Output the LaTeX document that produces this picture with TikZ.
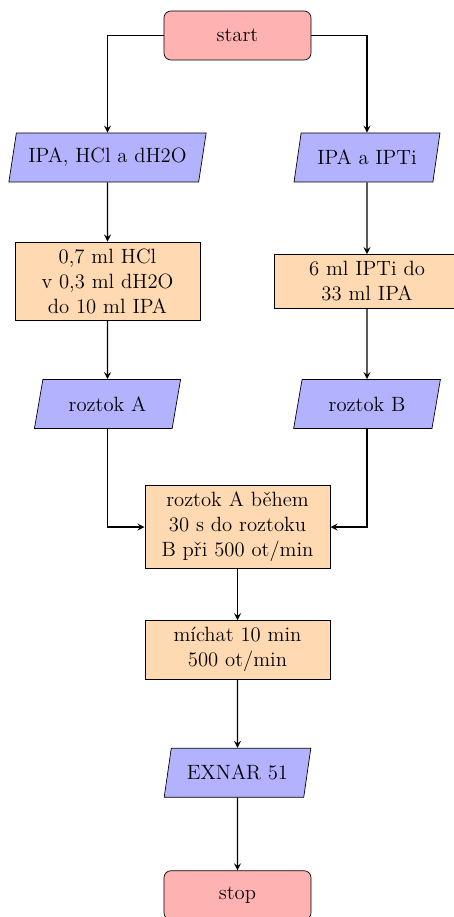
\documentclass[12pt,tikz,border=0pt]{standalone}
\usetikzlibrary{shapes.geometric,arrows}
\tikzset{
  startstop/.style={rectangle, rounded corners, minimum width=3cm, minimum height=1cm, text centered, draw=black, fill=red!30},
  io/.style={trapezium, trapezium left angle=77, trapezium right angle=103, trapezium stretches=true, inner xsep=7pt, minimum width=3cm, minimum height=1cm, text centered, draw=black, fill=blue!30},
  process/.style={rectangle, minimum width=3cm, minimum height=1cm, text width=3.5cm, align=center, draw=black, fill=orange!30},
  arrow/.style={thick, ->, >=stealth}
}
\begin{document}
\begin{tikzpicture}
\useasboundingbox (0,0) rectangle (9.245,-18.714);
\node[startstop] (start) at (4.847,-0.724) {start};
\node[io] (in1) at (2.194,-3.214) {IPA, HCl a dH2O};
\node[io] (in2) at (7.49,-3.214) {IPA a IPTi};
\node[process] (pro1) at (2.194,-5.739) {0,7 ml HCl\\ v 0,3 ml dH2O\\ do 10 ml IPA};
\node[process] (pro2) at (7.49,-5.739) {6 ml IPTi do\\ 33 ml IPA};
\node[io] (outA) at (2.194,-8.245) {roztok A};
\node[io] (outB) at (7.49,-8.245) {roztok B};
\node[process] (mix) at (4.847,-10.755) {roztok A během\\ 30 s do roztoku\\ B při 500 ot/min};
\node[process] (stir) at (4.847,-13.26) {míchat 10 min\\ 500 ot/min};
\node[io] (out) at (4.847,-15.77) {EXNAR 51};
\node[startstop] (stop) at (4.847,-18.27) {stop};

\draw[arrow] (start.west) -| (in1.north);
\draw[arrow] (start.east) -| (in2.north);
\draw[arrow] (in1) -- (pro1);
\draw[arrow] (in2) -- (pro2);
\draw[arrow] (pro1) -- (outA);
\draw[arrow] (pro2) -- (outB);
\draw[arrow] (outA.south) |- (mix.west);
\draw[arrow] (outB.south) |- (mix.east);
\draw[arrow] (mix) -- (stir);
\draw[arrow] (stir) -- (out);
\draw[arrow] (out) -- (stop);
\end{tikzpicture}
\end{document}
